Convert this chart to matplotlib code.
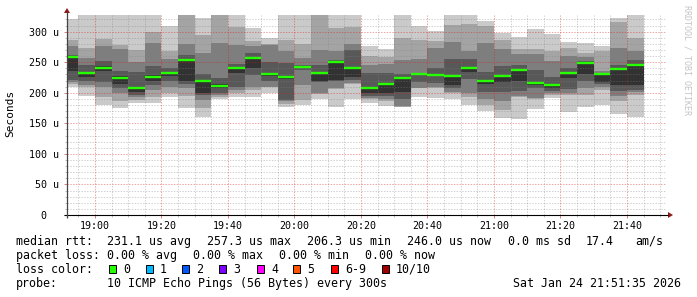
import numpy as np
import pandas as pd
import matplotlib
matplotlib.use("Agg")
import matplotlib.pyplot as plt
from matplotlib.patches import Rectangle, Polygon
from matplotlib.transforms import ScaledTranslation

# smokeping graph: 3 hours, one round of 10 pings every 300 s
window_start = pd.Timestamp("2026-01-24 18:51:35")
window_end = pd.Timestamp("2026-01-24 21:51:35")
slot_ends = pd.date_range("2026-01-24 18:55", "2026-01-24 21:45", freq="5min")

# the 10 pings of every round, sorted fastest -> slowest (microseconds)
ping_1 = [210, 194, 180, 175, 183, 184, 193, 175, 160, 189, 193, 193, 199, 177, 180, 189, 176, 189,
          183, 178, 176, 193, 192, 190, 180, 170, 158, 157, 173, 191, 168, 177, 180, 166, 160]
ping_2 = [214, 210, 193, 186, 188, 193, 200, 195, 175, 193, 200, 205, 209, 182, 188, 198, 206, 214,
          189, 186, 177, 207, 208, 200, 193, 180, 172, 193, 190, 197, 196, 196, 205, 186, 196]
ping_3 = [217, 213, 210, 200, 193, 205, 210, 208, 188, 196, 205, 210, 210, 186, 213, 200, 208, 216,
          192, 190, 178, 208, 210, 202, 200, 190, 186, 195, 192, 199, 200, 207, 210, 195, 201]
ping_4 = [221, 219, 218, 208, 197, 212, 220, 214, 196, 200, 210, 229, 220, 188, 238, 217, 220, 221,
          195, 195, 190, 218, 216, 207, 223, 201, 202, 203, 207, 203, 206, 220, 214, 203, 205]
ping_5 = [235, 226, 236, 214, 202, 220, 228, 220, 200, 207, 233, 240, 228, 222, 240, 219, 221, 225,
          200, 200, 202, 229, 227, 213, 234, 215, 217, 220, 212, 208, 224, 230, 218, 212, 212]
ping_6 = [257, 234, 244, 227, 210, 229, 234, 256, 221, 214, 242, 259, 233, 228, 243, 233, 251, 242,
          210, 216, 225, 231, 231, 228, 242, 221, 228, 238, 217, 213, 234, 249, 231, 240, 247]
ping_7 = [262, 245, 252, 236, 234, 243, 240, 262, 230, 224, 247, 265, 251, 248, 246, 246, 254, 270,
          232, 233, 230, 233, 241, 256, 256, 234, 244, 246, 238, 226, 241, 252, 233, 245, 254]
ping_8 = [277, 257, 277, 272, 251, 281, 255, 279, 265, 281, 278, 276, 278, 268, 257, 270, 268, 279,
          245, 247, 253, 256, 274, 283, 269, 281, 271, 264, 264, 252, 260, 258, 235, 273, 268]
ping_9 = [287, 273, 288, 278, 270, 300, 268, 335, 295, 335, 307, 284, 279, 287, 280, 335, 306, 307,
          260, 259, 290, 287, 284, 311, 312, 309, 286, 272, 271, 268, 273, 265, 268, 316, 289]
ping_10 = [321, 340, 340, 340, 340, 340, 309, 345, 322, 345, 340, 306, 290, 340, 340, 345, 340, 340,
           277, 271, 340, 309, 301, 340, 340, 317, 297, 292, 305, 296, 283, 281, 276, 323, 340]
median_rtt = [258, 232, 241, 224, 207, 226, 232, 254, 219, 211, 240, 257, 231, 225, 242, 232, 250, 240,
              207, 214, 224, 230, 229, 227, 240, 220, 227, 237, 216, 212, 233, 248, 230, 239, 246]

loss_labels = ["0", "1", "2", "3", "4", "5", "6-9", "10/10"]
loss_colors = ["#26ff00", "#00b8ff", "#0059ff", "#7e00ff", "#ff00ff", "#ff5500", "#ff0000", "#a10000"]
smoke_grays = ["#cacaca", "#a4a4a4", "#7e7e7e", "#585858", "#323232"]

MONO = "DejaVu Sans Mono"


def minutes(t):
    return t.hour * 60 + t.minute + t.second / 60.0


x0 = minutes(window_start)
x1 = minutes(window_end)
edges = np.array([x0] + [minutes(t) for t in slot_ends])

pings = [ping_1, ping_2, ping_3, ping_4, ping_5, ping_6, ping_7, ping_8, ping_9, ping_10]

fig = plt.figure(figsize=(6.97, 2.97), dpi=100)
fig.patch.set_facecolor("white")
ax = fig.add_axes([67 / 697, 82 / 297, 598.5 / 697, 200.5 / 297])
ax.set_xlim(x0, x1)
ax.set_ylim(0, 328)
for s in ax.spines.values():
    s.set_visible(False)

# smoke: nested bands p1-p10, p2-p9 ... p5-p6, darker towards the middle
for i in range(5):
    lo = np.append(pings[i], pings[i][-1])
    hi = np.append(pings[9 - i], pings[9 - i][-1])
    ax.fill_between(edges, lo, hi, step="post", color=smoke_grays[i], lw=0, zorder=1 + i * 0.1)

# dotted grid on top of the smoke, like rrdtool
grid_minor = (0.5, 0.5, 0.5, 0.36)
grid_major = (0.85, 0.1, 0.1, 0.4)
for v in range(10, 330, 10):
    ax.axhline(v, color=grid_major if v % 50 == 0 else grid_minor, lw=0.72,
               dashes=(1.4, 1.4), zorder=3)
for t in pd.date_range("2026-01-24 18:55", "2026-01-24 21:50", freq="5min"):
    m = minutes(t)
    ax.axvline(m, color=grid_major if t.minute % 20 == 0 else grid_minor, lw=0.72,
               dashes=(1.4, 1.4), zorder=3)

# median rtt, coloured by loss (no loss at all here)
ax.hlines(median_rtt, edges[:-1], edges[1:], color=loss_colors[0], lw=1.7, zorder=4)

# ticks
xt = pd.date_range("2026-01-24 19:00", "2026-01-24 21:40", freq="20min")
ax.set_xticks([minutes(t) for t in xt])
ax.set_xticklabels([t.strftime("%H:%M") for t in xt], family=MONO, fontsize=7.2)
ax.set_xticks([minutes(t) for t in pd.date_range("2026-01-24 18:55", "2026-01-24 21:50", freq="5min")],
              minor=True)
yt = [0, 50, 100, 150, 200, 250, 300]
ax.set_yticks(yt)
ax.set_yticklabels(["0"] + ["%d u" % v for v in yt[1:]], family=MONO, fontsize=7.2)
ax.set_yticks(range(10, 330, 10), minor=True)
ax.tick_params(which="major", length=2.2, width=0.7, color=(0.85, 0.5, 0.5), pad=3.3)
ax.tick_params(which="minor", length=1.5, width=0.7, color=(0.75, 0.75, 0.75))
ax.tick_params(axis="x", which="major", pad=2.2)
zero_lbl = ax.get_yticklabels()[0]
zero_lbl.set_transform(zero_lbl.get_transform() + ScaledTranslation(-0.13, 0, fig.dpi_scale_trans))

# overlay in pixel coordinates for axis arrows and the legend block
ov = fig.add_axes([0, 0, 1, 1], zorder=10)
ov.set_xlim(0, 697)
ov.set_ylim(297, 0)
ov.axis("off")
ov.patch.set_visible(False)

ov.plot([64, 668], [215, 215], color="black", lw=0.8, solid_capstyle="butt")
ov.plot([67, 67], [218, 12], color="#444444", lw=0.9, solid_capstyle="butt")
ov.add_patch(Polygon([(668, 212), (673, 215), (668, 218)], closed=True, color="#8b1a1a", lw=0))
ov.add_patch(Polygon([(64, 13), (67, 8), (70, 13)], closed=True, color="#8b1a1a", lw=0))

ov.text(10.7, 113, "Seconds", rotation=90, ha="center", va="center", family=MONO, fontsize=8)
ov.text(687, 5, "RRDTOOL / TOBI OETIKER", rotation=270, ha="center", va="top",
        family=MONO, fontsize=6, color="#c4c4c4")

fs = 8.35
row1, row2, row3, row4 = 241.3, 255.3, 269.2, 283.2
ov.text(16, row1, "median rtt:", family=MONO, fontsize=fs, va="center")
for x, s in [(107.3, "231.1 us avg"), (207.3, "257.3 us max"), (307.3, "206.3 us min"),
             (407.3, "246.0 us now"), (508, "0.0 ms sd"), (586, "17.4"), (635.3, "am/s")]:
    ov.text(x, row1, s, family=MONO, fontsize=fs, va="center")

ov.text(16, row2, "packet loss:", family=MONO, fontsize=fs, va="center")
for x, s in [(107.3, "0.00 % avg"), (193.3, "0.00 % max"), (279.3, "0.00 % min"), (365, "0.00 % now")]:
    ov.text(x, row2, s, family=MONO, fontsize=fs, va="center")

ov.text(16, row3, "loss color:", family=MONO, fontsize=fs, va="center")
box_x = [109, 145.7, 182.3, 219.3, 256.7, 293.3, 330.7, 381.7]
for bx, lab, col in zip(box_x, loss_labels, loss_colors):
    ov.add_patch(Rectangle((bx, row3 - 3.8), 6.8, 7.6, facecolor=col, edgecolor="black", lw=0.7))
    ov.text(bx + 14.3, row3, lab, family=MONO, fontsize=fs, va="center")

ov.text(16, row4, "probe:", family=MONO, fontsize=fs, va="center")
ov.text(107.3, row4, "10 ICMP Echo Pings (56 Bytes) every 300s", family=MONO, fontsize=fs, va="center")
ov.text(681, row4, "Sat Jan 24 21:51:35 2026", family=MONO, fontsize=fs, va="center", ha="right")

fig.savefig("out.png", dpi=100, facecolor="white")
